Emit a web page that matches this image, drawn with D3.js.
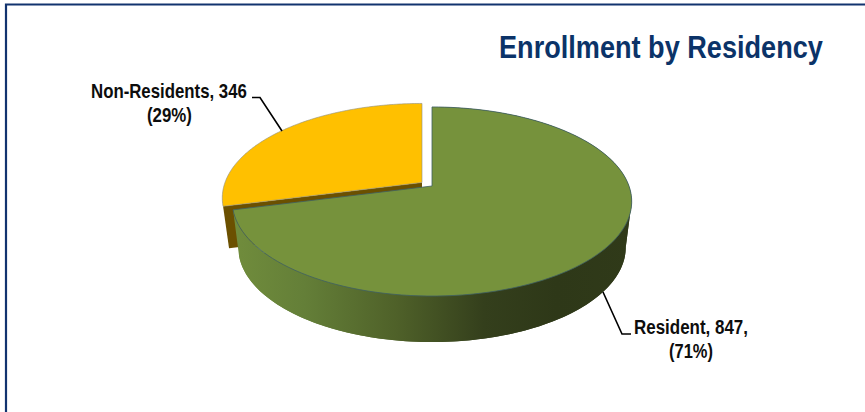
<!DOCTYPE html>
<html><head><meta charset="utf-8">
<script src="https://cdn.jsdelivr.net/npm/d3@7"></script>
<style>html,body{margin:0;background:#fff}svg{display:block}text{font-family:"Liberation Sans",Arial,sans-serif;font-weight:700}</style>
</head><body><div id="c"></div>
<script>
const categories = ["Resident", "Non-Residents"];
const values = [847, 346];
const percents = ["71%", "29%"];
const chartTitle = "Enrollment by Residency";
const colors = ["#76923c", "#ffc000"];

const W = 865, H = 412;
const svg = d3.select("#c").append("svg").attr("width", W).attr("height", H);
const defs = svg.append("defs");
const grad = defs.append("linearGradient").attr("id", "side").attr("gradientUnits", "userSpaceOnUse")
  .attr("x1", 236).attr("x2", 636).attr("y1", 0).attr("y2", 0);
[[0, "#708c3c"], [0.17, "#647f38"], [0.4, "#4f6129"], [0.62, "#343f1c"], [0.8, "#2e3818"], [1, "#303a19"]]
  .forEach(([o, c]) => grad.append("stop").attr("offset", o).attr("stop-color", c));

// frame: only the top and left rules are in the picture
svg.append("path").attr("d", `M6,${H} V4.5 H${W}`).attr("fill", "none").attr("stroke", "#12336f").attr("stroke-width", 2.2);

// perspective projection of a unit pie disc onto the page
const cx = 432, cy = 186, D = 197, A = 61.5, C = -0.164, depth = 46, shrink = 0.97;
function topPt(a, dx = 0, dy = 0) {
  const u = Math.sin(a), v = -Math.cos(a), w = 1 + C * v;
  return [cx + dx + D * u / w, (A * v + cy) / w + dy];
}
function bottomPt(a) {
  const p = topPt(a);
  return [cx + (p[0] - cx) * shrink, p[1] + depth];
}
const line = d3.line();
const arcPts = (f, a0, a1) => d3.range(0, 121).map(i => f(a0 + (a1 - a0) * i / 120));

const arcs = d3.pie().sort(null).startAngle(0).endAngle(2 * Math.PI)(values);
const green = arcs[0], yellow = arcs[1];
const ex = -10, ey = -3.5, yDepth = 42;

// Non-Residents: exploded slice with its cut wall
const yCorner = topPt(yellow.startAngle, ex, ey), yApex = [cx + ex, cy + ey];
const yBelow = p => [cx + ex + (p[0] - cx - ex) * shrink, p[1] + yDepth];
svg.append("path").attr("fill", "#6b5000")
  .attr("d", line([yCorner, yApex, yBelow(yApex), yBelow(yCorner)]) + "Z");
svg.append("path").attr("fill", colors[1]).attr("stroke", "#8f8f80").attr("stroke-width", 0.6)
  .attr("d", line([yApex, ...arcPts(a => topPt(a, ex, ey), yellow.startAngle, yellow.endAngle)]) + "Z");

// Resident: body then top face; the wall is split at the rim's rightmost point so it never folds over itself
const bApex = [cx, cy + depth];
svg.append("path").attr("fill", "url(#side)")
  .attr("d", line([bApex, ...arcPts(bottomPt, green.startAngle, green.endAngle)]) + "Z");
const turn = d3.greatest(d3.range(0, 361).map(i => green.endAngle * i / 360), a => topPt(a)[0]);
[[green.startAngle, turn], [turn, green.endAngle]].forEach(([a0, a1]) => {
  svg.append("path").attr("fill", "url(#side)")
    .attr("d", line([...arcPts(a => topPt(a), a0, a1), ...arcPts(bottomPt, a1, a0)]) + "Z");
});
svg.append("path").attr("fill", colors[0]).attr("stroke", "#3f5f63").attr("stroke-width", 0.8)
  .attr("d", line([[cx, cy], ...arcPts(a => topPt(a), green.startAngle, green.endAngle)]) + "Z");

// Text is squeezed horizontally to the reference's narrow bold face
function fitted(x, y, len, size, fill, t) {
  const n = svg.append("text").attr("font-size", size).attr("fill", fill).text(t);
  const k = len / n.node().getComputedTextLength();
  n.attr("transform", `translate(${x},${y}) scale(${k},1)`);
  return n;
}
fitted(499, 58, 324, 31, "#0b3368", chartTitle);
fitted(91, 97.5, 156, 19.5, "#0d0d0d", `${categories[1]}, ${values[1]}`);
fitted(147, 121.5, 45, 19.5, "#0d0d0d", `(${percents[1]})`);
fitted(634, 334, 114, 19.5, "#0d0d0d", `${categories[0]}, ${values[0]},`);
fitted(669, 358, 44, 19.5, "#0d0d0d", `(${percents[0]})`);

const leader = pts => svg.append("path").attr("d", line(pts)).attr("fill", "none").attr("stroke", "#000").attr("stroke-width", 1.6);
leader([[252, 97.5], [260, 97.5], [282, 131]]);
leader([[603, 292], [622, 334], [631, 334]]);
</script></body></html>
